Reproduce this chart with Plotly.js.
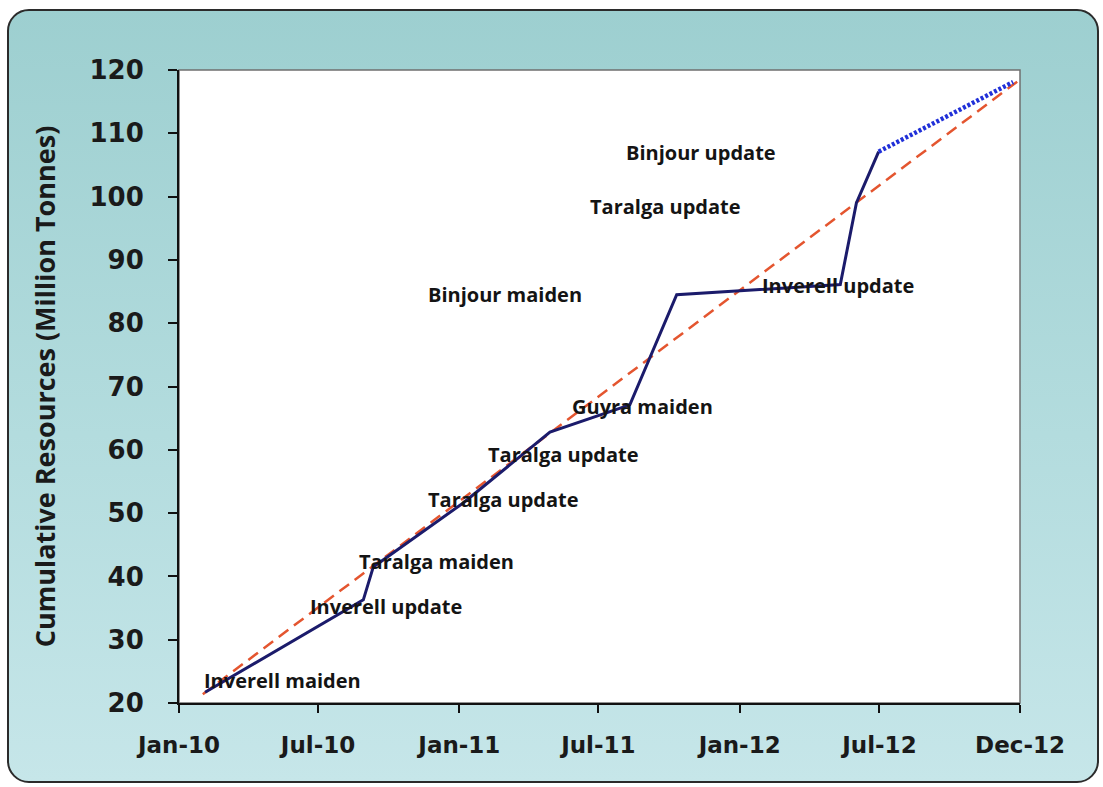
<!DOCTYPE html>
<html>
<head>
<meta charset="utf-8">
<script src="https://cdn.plot.ly/plotly-3.0.1.min.js"></script>
<style>
  html, body { margin: 0; padding: 0; background: #ffffff; }
  #frame {
    position: absolute; left: 7px; top: 9px; width: 1088px; height: 770px;
    border: 2px solid #2b2b2b; border-radius: 22px;
    background: linear-gradient(to bottom, #9dcfd0 0%, #b3dcde 55%, #c6e6e9 100%);
  }
  #chart { position: absolute; left: 0; top: 0; width: 1103px; height: 787px; }
</style>
</head>
<body>
<div id="frame"></div>
<div id="chart"></div>
<script>
// Cumulative resources (actual)
const resDates = ['2010-02-04','2010-08-29','2010-09-11','2011-01-06','2011-04-29','2011-08-11','2011-10-11','2012-05-11','2012-06-01','2012-06-30'];
const resValues = [21.7, 36.3, 41.5, 51.6, 62.8, 67.1, 84.5, 86.1, 99.0, 107.1];
// Projected segment (blue dotted)
const projDates = ['2012-06-30','2012-12-22'];
const projValues = [107.1, 118.1];
// Linear trend (red dashed)
const trendDates = ['2010-02-01','2012-12-31'];
const trendValues = [21.4, 118.5];
// Event labels
const labelTexts = ['Inverell maiden','Inverell update','Taralga maiden','Taralga update','Taralga update','Guyra maiden','Binjour maiden','Inverell update','Taralga update','Binjour update'];
const labelDates = ['2010-05-16','2010-09-28','2010-12-02','2011-02-28','2011-05-17','2011-08-28','2011-03-01','2012-05-08','2011-09-26','2011-11-12'];
const labelValues = [23.6, 35.2, 42.4, 52.2, 59.3, 66.9, 84.6, 85.9, 98.4, 106.9];
// Axis ticks
const xTickVals = ['2010-01-01','2010-07-01','2011-01-01','2011-07-01','2012-01-01','2012-07-01','2012-12-31'];
const xTickText = ['Jan-10','Jul-10','Jan-11','Jul-11','Jan-12','Jul-12','Dec-12'];
const yTickVals = [20,30,40,50,60,70,80,90,100,110,120];

const traces = [
  { x: trendDates, y: trendValues, mode: 'lines', type: 'scatter',
    line: { color: '#e4552f', width: 2.5, dash: '12px,7px' }, hoverinfo: 'skip' },
  { x: resDates, y: resValues, mode: 'lines', type: 'scatter',
    line: { color: '#1b1b6b', width: 3 } },
  { x: projDates, y: projValues, mode: 'lines', type: 'scatter',
    line: { color: '#2030d8', width: 4.5, dash: '3px,2px' } }
];

const annotations = labelTexts.map((t, i) => ({
  x: labelDates[i], y: labelValues[i], xref: 'x', yref: 'y',
  text: '<b>' + t + '</b>', showarrow: false, xanchor: 'center', yanchor: 'middle',
  font: { family: '"Open Sans", sans-serif', size: 20, color: '#141414' }
}));

const layout = {
  width: 1103, height: 787,
  margin: { l: 179, r: 83, t: 70, b: 84 },
  paper_bgcolor: 'rgba(0,0,0,0)',
  plot_bgcolor: '#ffffff',
  showlegend: false,
  xaxis: {
    type: 'date', range: ['2010-01-01','2012-12-31'],
    tickmode: 'array', tickvals: xTickVals, ticktext: xTickText,
    showgrid: false, zeroline: false,
    showline: true, linecolor: '#111', linewidth: 2,
    ticks: 'outside', ticklen: 8, tickwidth: 2, tickcolor: '#111',
    ticklabelstandoff: 12,
    tickfont: { family: '"DejaVu Sans", sans-serif', size: 23, color: '#1a1a1a', weight: 700 }
  },
  yaxis: {
    range: [20, 120], tickmode: 'array', tickvals: yTickVals,
    showgrid: false, zeroline: false,
    showline: true, linecolor: '#111', linewidth: 2,
    ticks: 'outside', ticklen: 9, tickwidth: 2, tickcolor: '#111',
    ticklabelstandoff: 19,
    tickfont: { family: '"DejaVu Sans", sans-serif', size: 26, color: '#1a1a1a', weight: 700 },
    title: { text: '<b>Cumulative Resources (Million Tonnes)</b>', standoff: 26,
      font: { family: '"Open Sans", sans-serif', size: 27, color: '#1a1a1a' } }
  },
  shapes: [
    { type: 'rect', xref: 'paper', yref: 'paper', x0: 0, x1: 1, y0: 0, y1: 1,
      line: { color: '#6f6f6f', width: 1.5 }, layer: 'below' }
  ],
  annotations: annotations
};

Plotly.newPlot('chart', traces, layout, { displayModeBar: false, staticPlot: true });
</script>
</body>
</html>
